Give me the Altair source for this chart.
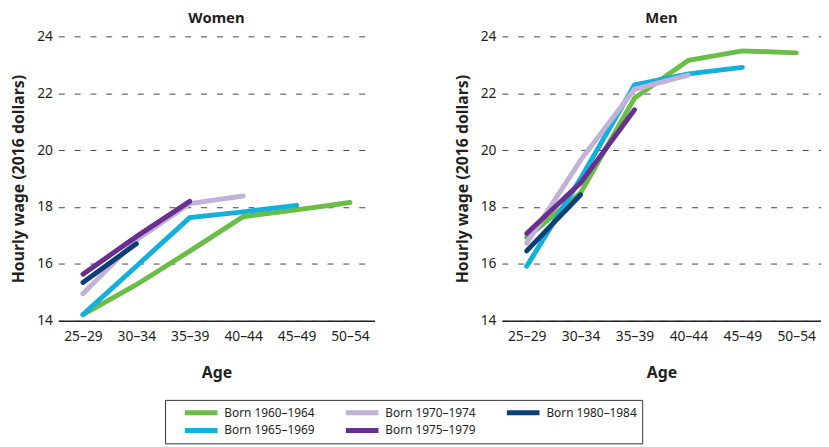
import altair as alt
import pandas as pd

ages = ["25–29", "30–34", "35–39", "40–44", "45–49", "50–54"]
cohorts = ["Born 1960–1964", "Born 1965–1969", "Born 1970–1974", "Born 1975–1979", "Born 1980–1984"]
colors = ["#6abd45", "#13b0dd", "#c3b2d8", "#6a2d90", "#0b3f78"]

women_1960 = [14.22, 15.27, 16.45, 17.66, 17.90, 18.16]
women_1965 = [14.22, 15.92, 17.63, 17.83, 18.06]
women_1970 = [14.95, 16.84, 18.12, 18.39]
women_1975 = [15.64, 16.96, 18.20]
women_1980 = [15.35, 16.71]

men_1960 = [16.93, 18.50, 21.83, 23.16, 23.49, 23.42]
men_1965 = [15.92, 19.00, 22.29, 22.68, 22.91]
men_1970 = [16.73, 19.65, 22.14, 22.64]
men_1975 = [17.07, 18.85, 21.42]
men_1980 = [16.46, 18.43]

women = [women_1960, women_1965, women_1970, women_1975, women_1980]
men = [men_1960, men_1965, men_1970, men_1975, men_1980]


def make_df(series):
    rows = []
    for k, (c, vals) in enumerate(zip(cohorts, series)):
        for i, v in enumerate(vals):
            rows.append({"cohort": c, "age": ages[i], "wage": v, "k": k})
    return pd.DataFrame(rows)


FONT = "Noto Sans"

color_enc = alt.Color(
    "cohort:N",
    scale=alt.Scale(domain=cohorts, range=colors),
    legend=alt.Legend(
        title=None, orient="none", legendX=108, legendY=368, columns=3,
        symbolType="M1.5,0H8.1", symbolStrokeWidth=5, symbolSize=100,
        labelFont=FONT, labelFontSize=12, labelColor="#231f20", labelOffset=40,
        clipHeight=16,
        columnPadding=16, rowPadding=2, padding=5, strokeColor="#333333",
    ),
)


def panel(series, title, width):
    df = make_df(series)
    return alt.Chart(df, title=alt.TitleParams(
        title, font=FONT, fontSize=15, fontWeight="bold", color="#231f20", offset=4, anchor="middle"
    )).mark_line(strokeWidth=5, strokeCap="round").encode(
        x=alt.X("age:O", sort=ages, scale=alt.Scale(domain=ages, padding=0.46),
                axis=alt.Axis(title="Age", labelAngle=0, ticks=False, domain=True,
                              domainColor="#231f20", domainWidth=1.5, labelPadding=9,
                              titlePadding=21, grid=False)),
        y=alt.Y("wage:Q", scale=alt.Scale(domain=[14, 24], nice=False, zero=False),
                axis=alt.Axis(title="Hourly wage (2016 dollars)", values=[14, 16, 18, 20, 22, 24],
                              grid=True, gridDash=[6, 10], gridColor="#444444", gridWidth=1,
                              domain=False, ticks=False, labelPadding=6, titlePadding=10)),
        color=color_enc,
        detail="k:O",
    ).properties(width=width, height=288)


chart = alt.hconcat(
    panel(women, "Women", 320),
    panel(men, "Men", 323),
    spacing=80,
).properties(
    padding={"left": 2, "right": 0, "top": 0, "bottom": 0}
).configure_view(stroke=None).configure_axis(
    labelFont=FONT, labelFontSize=14, labelColor="#231f20",
    titleFont=FONT, titleFontSize=16, titleFontWeight="bold", titleColor="#231f20",
)

chart.save("out.html", embed_options={"renderer": "svg", "actions": False})
